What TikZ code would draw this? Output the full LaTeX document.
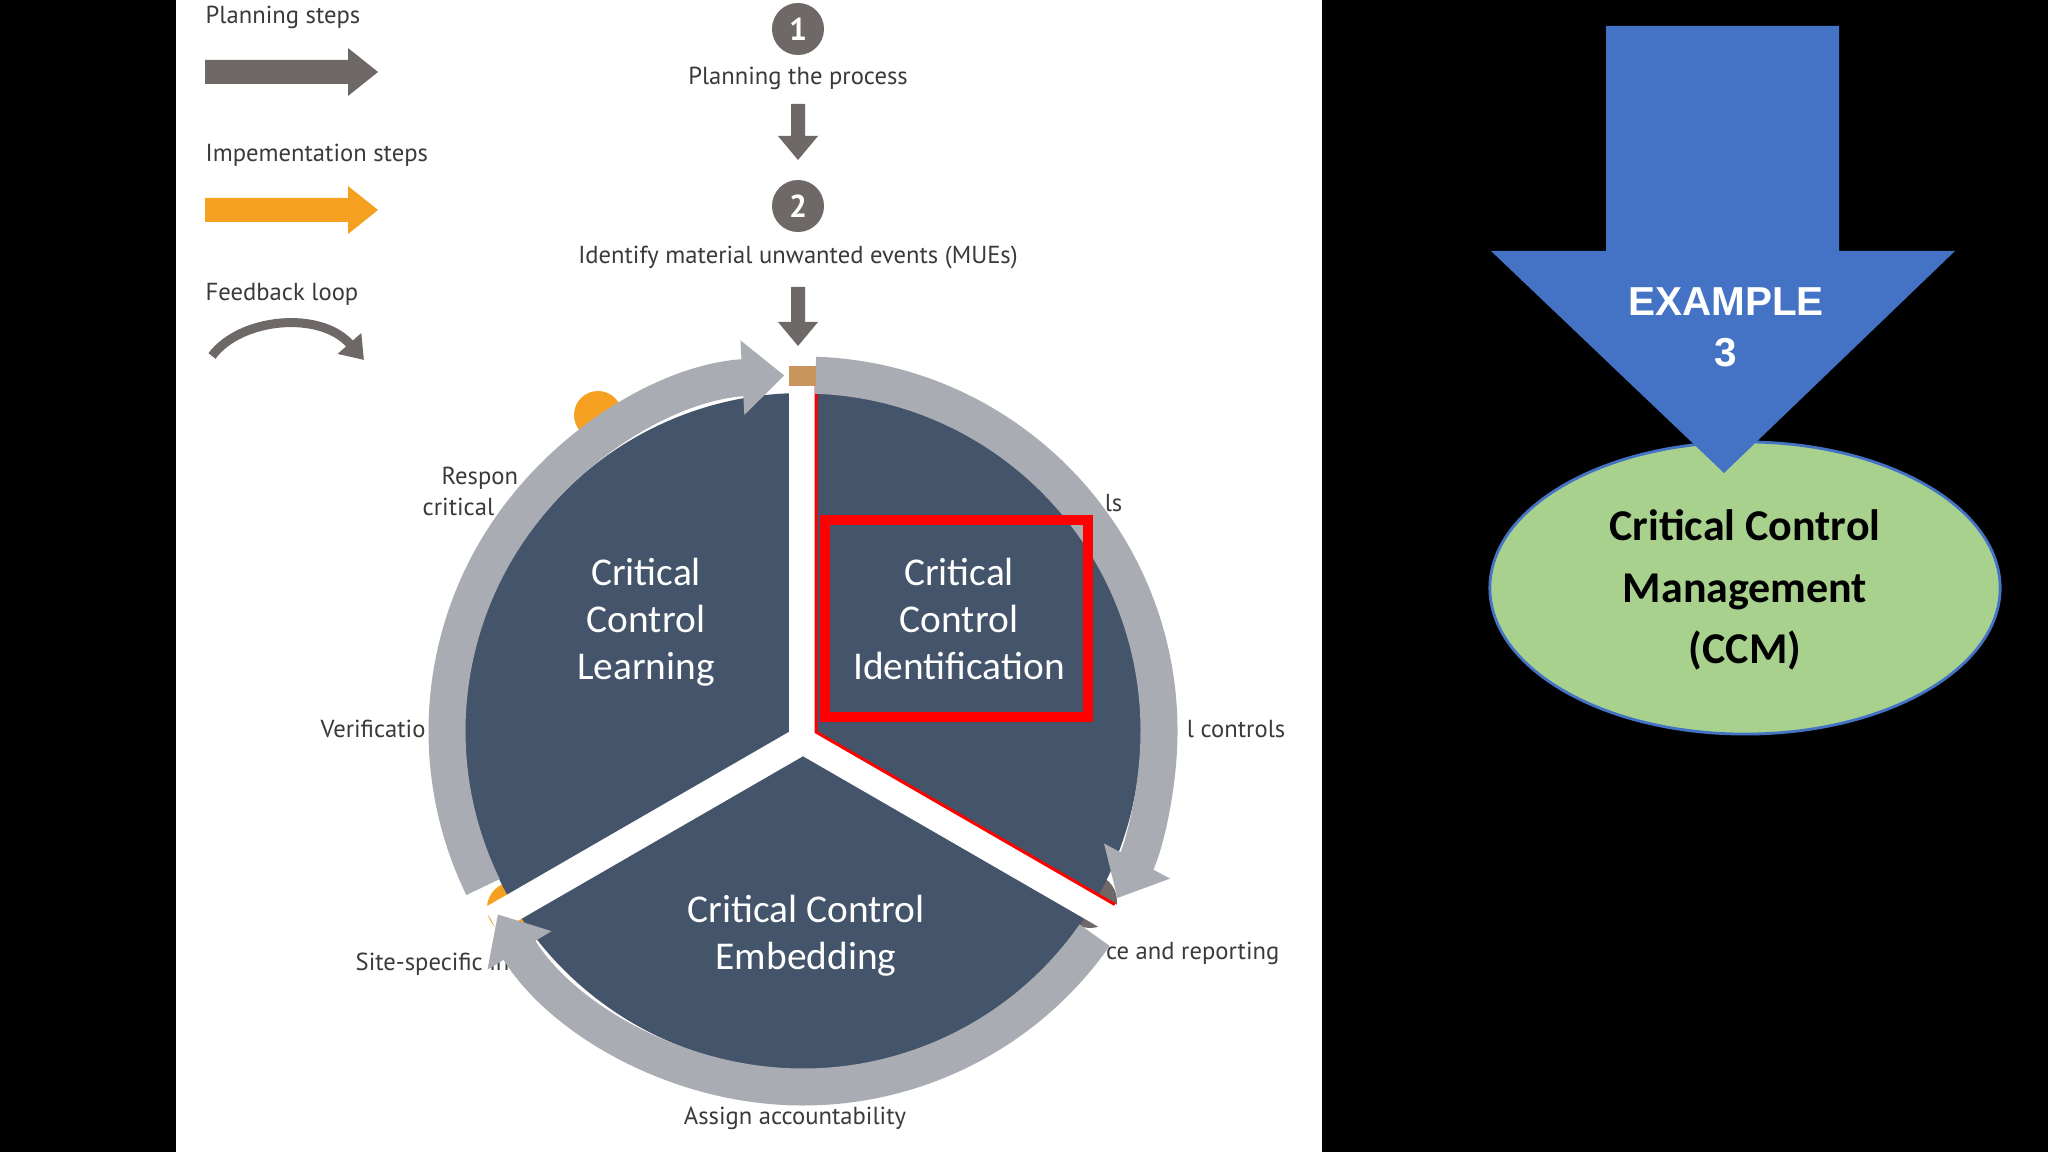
\documentclass[tikz,border=0pt]{standalone}
\usepackage{fontspec}
\setmainfont{Carlito}
\newfontfamily\dinfont{PT Sans}
\newfontfamily\arialfont{Liberation Sans}
\usetikzlibrary{arrows.meta,shapes.geometric}
\definecolor{darkslate}{HTML}{44546A}
\definecolor{ringgray}{HTML}{A9ADB3}
\definecolor{stepgray}{HTML}{6E6866}
\definecolor{steporange}{HTML}{F5A020}
\definecolor{ppblue}{HTML}{4472C4}
\definecolor{ppgreen}{HTML}{A9D18E}
\definecolor{txtgray}{HTML}{3A3A3A}
\definecolor{topbrown}{HTML}{C8965A}
\tikzset{
  lbl/.style={font=\dinfont\fontsize{7}{8}\selectfont, text=txtgray, inner sep=0pt},
  ringarc/.style={draw=ringgray, line width=0.37cm, -{Triangle[length=0.42cm,width=0.72cm]}},
  sectortext/.style={font=\fontsize{11.2}{13.4}\selectfont, text=white, align=center},
  numcirc/.style={circle, fill=stepgray, minimum size=0.52cm, inner sep=0pt, text=white, font=\dinfont\bfseries\fontsize{9}{9}\selectfont},
}
\begin{document}
\begin{tikzpicture}[x=0.01cm,y=-0.01cm]
\fill[black] (0,0) rectangle (2048,1152);
\useasboundingbox (0,0) rectangle (2048,1152);
\fill[white] (176,0) rectangle (1322,1152);

% legend
\node[lbl, anchor=west] (lp) at (205,17) {Planning steps};
\fill[stepgray] (205,60) -- (348,60) -- (348,48) -- (378,72) -- (348,96) -- (348,84) -- (205,84) -- cycle;
\node[lbl, anchor=west] (li) at (205,155) {Impementation steps};
\fill[steporange] (205,198) -- (348,198) -- (348,186) -- (378,210) -- (348,234) -- (348,222) -- (205,222) -- cycle;
\node[lbl, anchor=west] (lf) at (205,294) {Feedback loop};
\coordinate (fa) at (212,356);
\coordinate (fb) at (364,360);
\draw[stepgray, line width=0.09cm, -{Triangle[length=0.22cm,width=0.3cm]}] (fa) .. controls (240,318) and (320,310) .. (fb);

% top steps
\node[numcirc] (n1) at (798,29) {1};
\node[lbl] (t1) at (798,78) {Planning the process};
\fill[stepgray] (791,104) -- (805,104) -- (805,136) -- (818,136) -- (798,160) -- (778,136) -- (791,136) -- cycle;
\node[numcirc] (n2) at (798,206) {2};
\node[lbl] (t2) at (798,257) {Identify material unwanted events (MUEs)};
\fill[stepgray] (791,287) -- (805,287) -- (805,322) -- (818,322) -- (798,346) -- (778,322) -- (791,322) -- cycle;

% partial labels around wheel
\node[lbl, anchor=west] (r1) at (441,478) {Respon};
\node[lbl, anchor=west] (r2) at (422,507) {critical};
\node[lbl, anchor=east] (c1) at (1123,503) {ls};
\node[lbl, anchor=west] (v1) at (320,729) {Verificatio};
\node[lbl, anchor=east] (c2) at (1286,729) {l controls};
\node[lbl, anchor=west] (s1) at (355,964) {Site-specific in};
\node[lbl, anchor=east] (m1) at (1280,953) {ce and reporting};
\node[lbl] (a1) at (795,1118) {Assign accountability};

% small step circles partly hidden
\fill[steporange] (598,415) circle[radius=24];
\fill[steporange] (513,908) circle[radius=26];
\node[numcirc, minimum size=0.54cm] (n5) at (1090,901) {5};

% wheel
\fill[darkslate] (803,731) circle[radius=338];
\draw[white, line width=0.28cm] (803,740) -- (803,380);
\begin{scope}[shift={(803,740)}, x=0.01cm, y=0.01cm]
  \draw[white, line width=0.28cm] (0,0) -- (210:360);
  \draw[white, line width=0.28cm] (0,0) -- (-30:360);
  \draw[red, line width=0.03cm] (13,360) -- (13,8) -- ++(-30:345);
\end{scope}
\begin{scope}[shift={(803,731)}, x=0.01cm, y=0.01cm]
  \draw[ringarc] (206:356) arc[start angle=206, end angle=93, radius=356];
  \draw[ringarc] (88:356) arc[start angle=88, end angle=-28, radius=356];
  \draw[ringarc] (-35:356) arc[start angle=-35, end angle=-149, radius=356];
\end{scope}
\fill[topbrown] (789,366) rectangle (816,386);

\node[sectortext] (learn) at (646,622) {Critical\\Control\\Learning};
\node[sectortext] (ident) at (959,619) {Critical\\Control\\Identification};
\node[sectortext] (embed) at (806,936) {Critical Control\\Embedding};
\draw[red, line width=0.1cm] (825,520) rectangle (1088,717);

% right side
\node[ellipse, fill=ppgreen, draw=ppblue, line width=0.8pt, minimum width=5.1cm, minimum height=2.92cm, inner sep=0pt] (ccm) at (1745,588) {};
\node[font=\bfseries\fontsize{12.5}{17.4}\selectfont, align=center, text=black] (ccmt) at (1745,590) {Critical Control\\Management\\(CCM)};
\fill[ppblue] (1606,26) -- (1839,26) -- (1839,251) -- (1955,251) -- (1724,473) -- (1491,251) -- (1606,251) -- cycle;
\node[font=\arialfont\bfseries\fontsize{11.5}{14.5}\selectfont, text=white, align=center] (ex) at (1726,327) {EXAMPLE\\3};
\end{tikzpicture}
\end{document}
